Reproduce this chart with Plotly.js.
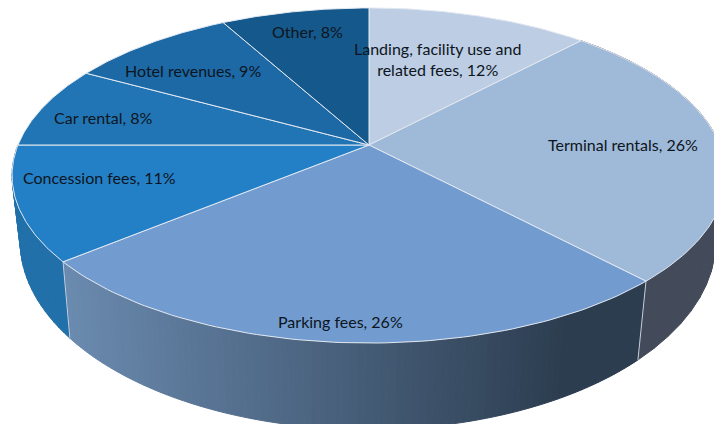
<!DOCTYPE html>
<html>
<head>
<meta charset="utf-8">
<script src="https://cdn.plot.ly/plotly-3.0.1.min.js"></script>
<style>html,body{margin:0;padding:0;background:#fff}#chart{width:714px;height:424px}</style>
</head>
<body>
<div id="chart"></div>
<script>
const categories = ["Landing, facility use and related fees", "Terminal rentals", "Parking fees", "Concession fees", "Car rental", "Hotel revenues", "Other"];
const shares = [12, 26, 26, 11, 8, 9, 8];
const labelTexts = ["Landing, facility use and<br>related fees, 12%", "Terminal rentals, 26%", "Parking fees, 26%", "Concession fees, 11%", "Car rental, 8%", "Hotel revenues, 9%", "Other, 8%"];

const labelPos = [[437, 59], [623, 144], [340, 321], [99, 177], [103, 117], [193, 70], [307, 31]];
const topColors = ["#bccde4", "#9fb9d8", "#729cd0", "#2480c6", "#2275b4", "#1c69a6", "#15588c"];
const wallColors = ["#434b5b", "#434b5b", null, "#2170aa", "#2170aa", "#2170aa", "#2170aa"];
const gradFrom = [106, 138, 175], gradTo = [44, 61, 80];
const edge = "#e2e8f1";

// Projective view of the pie disc (top face and base)
const K = 0.182;
const topFace = {xc: 369, yc: 145, a: 351, b: 162};
const baseFace = {xc: 368, yc: 207, a: 342, b: 182};
function project(face, pct) {
  const t = pct / 100 * 2 * Math.PI;
  const X = Math.sin(t), Y = -Math.cos(t), d = 1 - K * Y;
  return [face.xc + face.a * X / d, face.yc + face.b * Y / d];
}
function arc(face, p0, p1, n) {
  const pts = [];
  for (let i = 0; i <= n; i++) pts.push(project(face, p0 + (p1 - p0) * i / n));
  return pts;
}
function poly(pts, fill, lineColor, lineWidth) {
  return {type: "scatter", mode: "lines", x: pts.map(p => p[0]), y: pts.map(p => p[1]),
    fill: "toself", fillcolor: fill, line: {color: lineColor || fill, width: lineWidth === undefined ? 1 : lineWidth},
    hoverinfo: "skip", showlegend: false};
}
function line(pts, color, width) {
  return {type: "scatter", mode: "lines", x: pts.map(p => p[0]), y: pts.map(p => p[1]),
    line: {color: color, width: width}, hoverinfo: "skip", showlegend: false};
}

let bounds = [0];
shares.forEach(v => bounds.push(bounds[bounds.length - 1] + v));

const traces = [];
// Walls: only the slices along the front rim show
shares.forEach((v, i) => {
  const p0 = bounds[i], p1 = bounds[i + 1];
  if (p1 <= 25 || p0 >= 75) return;
  const n = wallColors[i] ? 24 : 90;
  for (let s = 0; s < n; s++) {
    const a = p0 + (p1 - p0) * s / n, b = p0 + (p1 - p0) * (s + 1) / n;
    const ta = project(topFace, a), tb = project(topFace, b), ba = project(baseFace, a), bb = project(baseFace, b);
    let c = wallColors[i];
    if (!c) {
      const mx = (ba[0] + bb[0]) / 2;
      const f = Math.min(1, Math.max(0, (mx - 70) / 490));
      const mix = gradFrom.map((g, j) => Math.round(g + (gradTo[j] - g) * f));
      c = "rgb(" + mix.join(",") + ")";
    }
    traces.push(poly([ta, tb, bb, ba, ta], c));
  }
});
// Seams on the wall
[bounds[2], bounds[3]].forEach(p => {
  traces.push(line([project(topFace, p), project(baseFace, p)], "#c9d0da", 1));
});
// Top face slices
shares.forEach((v, i) => {
  const pts = [[topFace.xc, topFace.yc]].concat(arc(topFace, bounds[i], bounds[i + 1], 80));
  pts.push([topFace.xc, topFace.yc]);
  traces.push(poly(pts, topColors[i], edge, 1));
});

const annotations = labelTexts.map((t, i) => ({
  x: labelPos[i][0], y: labelPos[i][1], text: t, showarrow: false, xanchor: "center", yanchor: "middle",
  align: "center", font: {family: "Lato, 'Open Sans', sans-serif", size: 16, color: "#0d1520"}
}));

Plotly.newPlot("chart", traces, {
  width: 714, height: 424, margin: {l: 0, r: 0, t: 0, b: 0},
  paper_bgcolor: "#ffffff", plot_bgcolor: "#ffffff", showlegend: false,
  xaxis: {range: [0, 714], visible: false, fixedrange: true},
  yaxis: {range: [424, 0], visible: false, fixedrange: true},
  annotations: annotations
}, {displayModeBar: false, staticPlot: true});
</script>
</body>
</html>
